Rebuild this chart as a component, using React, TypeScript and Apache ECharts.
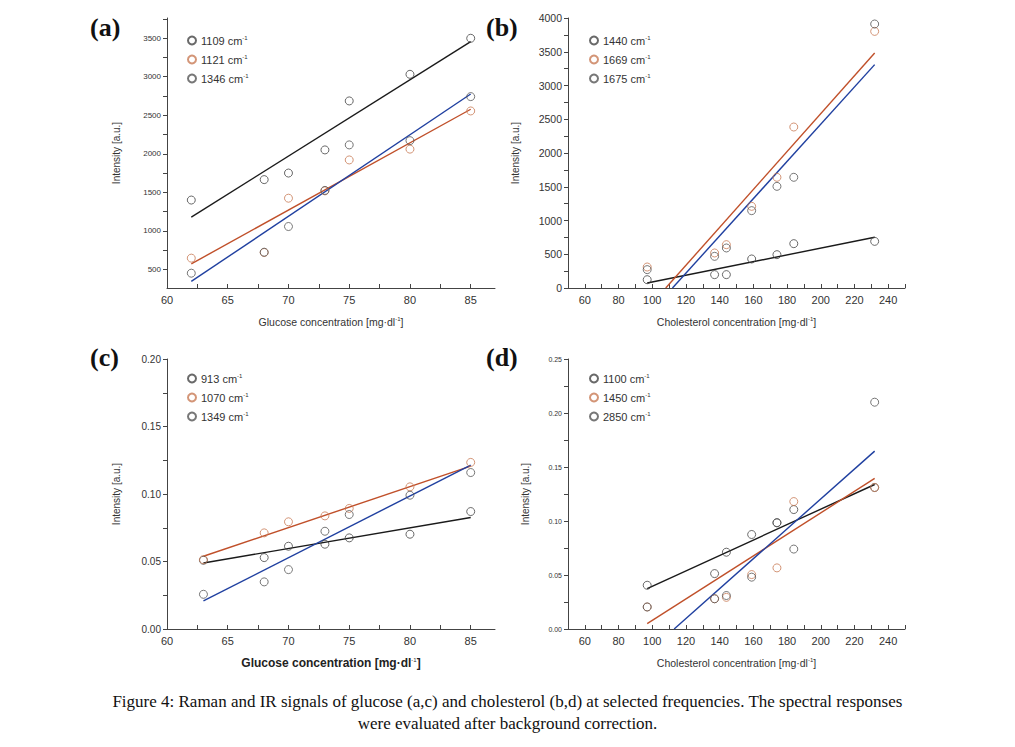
import React, { useEffect, useRef } from 'react';
import * as echarts from 'echarts';

// x values
const glucoseA = [62, 68, 70, 73, 75, 80, 85];
const glucoseC = [63, 68, 70, 73, 75, 80, 85];
const cholesterol = [97, 137, 144, 159, 174, 184, 232];

// (a) Raman glucose
const a1109 = [1400, 1665, 1750, 2050, 2685, 3030, 3497];
const a1121 = [647, 720, 1424, 1519, 1920, 2060, 2555];
const a1346 = [452, 724, 1057, 1525, 2115, 2170, 2741];
const fitA1109 = [[62, 1178], [85, 3453]];
const fitA1121 = [[62, 573], [85, 2577]];
const fitA1346 = [[62, 345], [85, 2775]];

// (b) Raman cholesterol
const b1440 = [123, 198, 198, 430, 494, 657, 691];
const b1669 = [311, 519, 642, 1210, 1640, 2385, 3802];
const b1675 = [272, 469, 593, 1146, 1506, 1640, 3911];
const fitB1440 = [[97, 74], [232, 751]];
const fitB1669 = [[108, 0], [232, 3481]];
const fitB1675 = [[112, 0], [232, 3309]];

// (c) IR glucose
const c913 = [0.0509, 0.0529, 0.0613, 0.0628, 0.0675, 0.0702, 0.087];
const c1070 = [0.0514, 0.0712, 0.0794, 0.0838, 0.0893, 0.1053, 0.1234];
const c1349 = [0.0257, 0.0349, 0.044, 0.0724, 0.0848, 0.0991, 0.1159];
const fitC913 = [[63, 0.0489], [85, 0.0826]];
const fitC1070 = [[63, 0.0539], [85, 0.1206]];
const fitC1349 = [[63, 0.0208], [85, 0.1214]];

// (d) IR cholesterol
const d1100 = [0.0405, 0.0513, 0.0711, 0.0875, 0.0983, 0.1106, 0.131];
const d1450 = [0.0204, 0.028, 0.0293, 0.0504, 0.0566, 0.118, 0.131];
const d2850 = [0.0204, 0.028, 0.031, 0.048, 0.0985, 0.074, 0.21];
const fitD1100 = [[97, 0.0374], [232, 0.1338]];
const fitD1450 = [[97, 0.0049], [232, 0.1394]];
const fitD2850 = [[113, 0], [232, 0.1647]];

const glucoseLabels = [60, 65, 70, 75, 80, 85];
const glucoseTicks = [60, 62.5, 65, 67.5, 70, 72.5, 75, 77.5, 80, 82.5, 85];
const cholLabels = [60, 80, 100, 120, 140, 160, 180, 200, 220, 240];
const cholTicks = [50, 60, 70, 80, 90, 100, 110, 120, 130, 140, 150, 160, 170, 180, 190, 200, 210, 220, 230, 240, 250];
const yLabelsA = [500, 1000, 1500, 2000, 2500, 3000, 3500];
const yTicksA = [500, 750, 1000, 1250, 1500, 1750, 2000, 2250, 2500, 2750, 3000, 3250, 3500, 3750];
const yLabelsB = [0, 500, 1000, 1500, 2000, 2500, 3000, 3500, 4000];
const yTicksB = [0, 250, 500, 750, 1000, 1250, 1500, 1750, 2000, 2250, 2500, 2750, 3000, 3250, 3500, 3750, 4000];
const yLabelsC = [0, 0.05, 0.1, 0.15, 0.2];
const yTicksC = [0, 0.025, 0.05, 0.075, 0.1, 0.125, 0.15, 0.175, 0.2];
const yLabelsD = [0, 0.05, 0.1, 0.15, 0.2, 0.25];
const yTicksD = [0, 0.025, 0.05, 0.075, 0.1, 0.125, 0.15, 0.175, 0.2, 0.225, 0.25];

const BLACK = '#1a1a1a';
const ORANGE = '#c0502a';
const BLUE = '#2040a0';
const AXIS = '#444';
const FONT = 'Liberation Sans';

function pairs(xs: number[], ys: number[]) {
  return xs.map((x, i) => [x, ys[i]]);
}

export default function App() {
  const ref = useRef<HTMLDivElement>(null);
  useEffect(() => {
    if (!ref.current) return;
    const chart = echarts.init(ref.current, null, { renderer: 'svg' });

    const grids = [
      { left: 167, right: 520, top: 18, bottom: 459 },
      { left: 568, right: 110, top: 18, bottom: 459 },
      { left: 167, right: 520, top: 359, bottom: 118 },
      { left: 568, right: 110, top: 359, bottom: 118 },
    ];
    const xAxis = [
      { min: 60, max: 87, labels: glucoseLabels, ticks: glucoseTicks, name: 'Glucose concentration [mg·dl', bold: false },
      { min: 50, max: 250, labels: cholLabels, ticks: cholTicks, name: 'Cholesterol concentration [mg·dl', bold: false },
      { min: 60, max: 87, labels: glucoseLabels, ticks: glucoseTicks, name: 'Glucose concentration [mg·dl', bold: true },
      { min: 50, max: 250, labels: cholLabels, ticks: cholTicks, name: 'Cholesterol concentration [mg·dl', bold: false },
    ].map((a, i) => ({
      type: 'value', gridIndex: i, min: a.min, max: a.max,
      name: `{n|${a.name}}{s|-1}{n|]}`, nameLocation: 'middle', nameGap: 28,
      nameTextStyle: { rich: { n: { fontFamily: FONT, fontSize: a.bold ? 12 : 10.5, color: a.bold ? '#222' : '#333', fontWeight: a.bold ? 'bold' : 'normal' }, s: { fontFamily: FONT, fontSize: 6, color: '#333', verticalAlign: 'top', lineHeight: 10 } } },
      axisLine: { lineStyle: { color: AXIS } },
      axisTick: { inside: true, length: 4, lineStyle: { color: AXIS }, customValues: a.ticks },
      axisLabel: { customValues: a.labels, color: '#333', fontFamily: FONT, fontSize: 11, margin: 6 },
      splitLine: { show: false },
    }));
    const yAxis = [
      { min: 260, max: 3760, labels: yLabelsA, ticks: yTicksA, fs: 8, gap: 46, fmt: (v: number) => String(v) },
      { min: 0, max: 4000, labels: yLabelsB, ticks: yTicksB, fs: 10.5, gap: 48, fmt: (v: number) => String(v) },
      { min: 0, max: 0.2, labels: yLabelsC, ticks: yTicksC, fs: 10, gap: 46, fmt: (v: number) => v.toFixed(2) },
      { min: 0, max: 0.25, labels: yLabelsD, ticks: yTicksD, fs: 7, gap: 38, fmt: (v: number) => v.toFixed(2) },
    ].map((a, i) => ({
      type: 'value', gridIndex: i, min: a.min, max: a.max,
      name: 'Intensity [a.u.]', nameLocation: 'middle', nameGap: a.gap,
      nameTextStyle: { fontFamily: FONT, fontSize: 10, color: '#333' },
      axisLine: { show: true, lineStyle: { color: AXIS } },
      axisTick: { show: true, length: 4, lineStyle: { color: AXIS }, customValues: a.ticks },
      axisLabel: { customValues: a.labels, formatter: a.fmt, color: '#333', fontFamily: FONT, fontSize: a.fs, margin: 6 },
      splitLine: { show: false },
    }));

    const panels: { xs: number[]; sets: [string, number[], number[][]][] }[] = [
      { xs: glucoseA, sets: [['1109', a1109, fitA1109], ['1121', a1121, fitA1121], ['1346', a1346, fitA1346]] },
      { xs: cholesterol, sets: [['1440', b1440, fitB1440], ['1669', b1669, fitB1669], ['1675', b1675, fitB1675]] },
      { xs: glucoseC, sets: [['913', c913, fitC913], ['1070', c1070, fitC1070], ['1349', c1349, fitC1349]] },
      { xs: cholesterol, sets: [['1100', d1100, fitD1100], ['1450', d1450, fitD1450], ['2850', d2850, fitD2850]] },
    ];
    const lineColors = [BLACK, ORANGE, BLUE];
    const markerColors = ['#444', '#c87a55', '#555'];
    const series: any[] = [];
    const legends: any[] = [];
    const legendPos = [[182, 30], [584, 30], [182, 368], [584, 368]];
    panels.forEach((p, i) => {
      p.sets.forEach(([name, ys, fit], k) => {
        series.push({
          type: 'line', xAxisIndex: i, yAxisIndex: i, data: fit, symbol: 'none',
          lineStyle: { color: lineColors[k], width: 1.4 }, z: 2, silent: true,
        });
        series.push({
          name, type: 'scatter', xAxisIndex: i, yAxisIndex: i, data: pairs(p.xs, ys),
          symbol: 'circle', symbolSize: 8,
          itemStyle: { color: 'rgba(255,255,255,0)', borderColor: markerColors[k], borderWidth: 1 }, z: 3,
        });
      });
      legends.push({
        data: p.sets.map((s) => s[0]), left: legendPos[i][0], top: legendPos[i][1], orient: 'vertical',
        itemWidth: 8, itemHeight: 8, itemGap: 8, selectedMode: false,
        formatter: (n: string) => `{n|${n} cm}{s|-1}`,
        textStyle: { rich: { n: { fontFamily: FONT, fontSize: 11, color: '#333' }, s: { fontFamily: FONT, fontSize: 6, color: '#333', verticalAlign: 'top', lineHeight: 8 } } },
      });
    });

    const letter = (t: string, x: number, y: number) => ({
      type: 'text', left: x, top: y,
      style: { text: t, font: 'bold 26px "Liberation Serif"', fill: '#111' },
    });

    chart.setOption({
      animation: false,
      backgroundColor: '#fff',
      grid: grids,
      xAxis, yAxis, series, legend: legends,
      graphic: [
        letter('(a)', 90, 14),
        letter('(b)', 486, 14),
        letter('(c)', 90, 344),
        letter('(d)', 486, 344),
        { type: 'text', left: 'center', top: 693, style: { text: 'Figure 4: Raman and IR signals of glucose (a,c) and cholesterol (b,d) at selected frequencies. The spectral responses', font: '17px "Liberation Serif"', fill: '#111' } },
        { type: 'text', left: 'center', top: 715, style: { text: 'were evaluated after background correction.', font: '17px "Liberation Serif"', fill: '#111' } },
      ],
    });
    return () => chart.dispose();
  }, []);
  return <div ref={ref} style={{ position: 'absolute', left: 0, top: 0, width: 1015, height: 747 }} />;
}
